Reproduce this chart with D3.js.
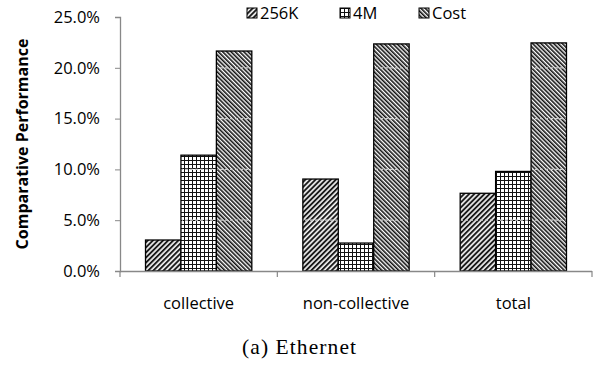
<!DOCTYPE html>
<html><head><meta charset="utf-8">
<script src="https://cdn.jsdelivr.net/npm/d3@7/dist/d3.min.js"></script>
<style>body{margin:0;background:#fff}svg{display:block}</style>
</head><body><svg id="c" width="597" height="367"></svg>
<script>
const categories = ["collective", "non-collective", "total"];
const seriesNames = ["256K", "4M", "Cost"];
const values256K = [3.05, 9.05, 7.65];
const values4M = [11.4, 2.75, 9.8];
const valuesCost = [21.65, 22.35, 22.45];
const yTicks = [0, 5, 10, 15, 20, 25];

const svg = d3.select("#c");
const m = {left:120, right:5, top:17, bottom:96};
const x = d3.scaleBand().domain(categories).range([m.left, 592]).paddingInner(0).paddingOuter(0);
const x1 = d3.scaleBand().domain(seriesNames).range([0, x.bandwidth()]).paddingOuter(0.72).paddingInner(0);
const y = d3.scaleLinear().domain([0, 25]).range([271, 17]);

const defs = svg.append("defs");
const p1 = defs.append("pattern").attr("id","p256").attr("patternUnits","userSpaceOnUse").attr("width",3.6).attr("height",3.6).attr("patternTransform","rotate(45)");
p1.append("rect").attr("width",3.6).attr("height",3.6).attr("fill","#eee");
p1.append("rect").attr("width",1.9).attr("height",3.6).attr("fill","#1a1a1a");
const p2 = defs.append("pattern").attr("id","p4m").attr("patternUnits","userSpaceOnUse").attr("width",4).attr("height",4);
p2.append("rect").attr("width",4).attr("height",4).attr("fill","#fff");
p2.append("path").attr("d","M0,0.5H4M0.5,0V4").attr("stroke","#111").attr("stroke-width",1);
const p3 = defs.append("pattern").attr("id","pcost").attr("patternUnits","userSpaceOnUse").attr("width",3).attr("height",3).attr("patternTransform","rotate(-45)");
p3.append("rect").attr("width",3).attr("height",3).attr("fill","#fff");
p3.append("rect").attr("width",1.6).attr("height",3).attr("fill","#111");

const fills = {"256K":"url(#p256)","4M":"url(#p4m)","Cost":"url(#pcost)"};
const data = categories.map((c,i)=>({cat:c, vals:[
  {s:"256K", v:values256K[i]}, {s:"4M", v:values4M[i]}, {s:"Cost", v:valuesCost[i]}]}));

const font = "Open Sans, Liberation Sans, sans-serif";

const bars = [];
data.forEach(d=>{ d.vals.forEach(b=>bars.push({cat:d.cat, s:b.s, v:b.v})); });
svg.append("g").selectAll("rect.bar").data(bars).join("rect").attr("class","bar")
  .attr("x", d=>x(d.cat)+x1(d.s)).attr("width", x1.bandwidth())
  .attr("y", d=>y(d.v)).attr("height", d=>y(0)-y(d.v))
  .attr("fill", d=>fills[d.s]).attr("stroke","#000").attr("stroke-width",1.3);

const clip = defs.append("clipPath").attr("id","barclip");
clip.selectAll("rect").data(bars).join("rect")
  .attr("x", d=>x(d.cat)+x1(d.s)+1).attr("width", x1.bandwidth()-2)
  .attr("y", d=>y(d.v)+1).attr("height", d=>Math.max(0,y(0)-y(d.v)-2));
svg.append("g").attr("clip-path","url(#barclip)").selectAll("line").data(yTicks.slice(1)).join("line")
  .attr("x1", m.left).attr("x2", 592).attr("y1", d=>y(d)).attr("y2", d=>y(d))
  .attr("stroke","#ccc").attr("stroke-width",1.2).attr("stroke-dasharray","3,2");

const ya = svg.append("g").attr("transform",`translate(${m.left},0)`)
  .call(d3.axisLeft(y).tickValues(yTicks).tickSize(5).tickFormat(d=>d.toFixed(1)+"%"));
ya.select(".domain").attr("stroke","#888").attr("stroke-width",1.3);
ya.selectAll(".tick line").attr("stroke","#888");
ya.selectAll(".tick text").attr("font-family",font).attr("font-size",16.5).attr("fill","#000").attr("x",-20);

const xa = svg.append("g").attr("transform",`translate(0,${y(0)})`);
xa.append("line").attr("x1",m.left).attr("x2",592).attr("y1",0.5).attr("y2",0.5).attr("stroke","#888").attr("stroke-width",1.5);
const edges = categories.map(c=>x(c)).concat([x(categories[categories.length-1])+x.bandwidth()]);
xa.selectAll("line.t").data(edges).join("line").attr("class","t")
  .attr("x1",d=>d).attr("x2",d=>d).attr("y1",0).attr("y2",6).attr("stroke","#888").attr("stroke-width",1.2);
xa.selectAll("text").data(categories).join("text")
  .attr("x", d=>x(d)+x.bandwidth()/2).attr("y", 38).attr("text-anchor","middle")
  .attr("font-family",font).attr("font-size",16.5).text(d=>d);

svg.append("text").attr("transform","translate(28,144) rotate(-90)").attr("text-anchor","middle")
  .attr("font-family",font).attr("font-weight","bold").attr("font-size",16).text("Comparative Performance");

const legX = [247, 340, 419];
const lg = svg.append("g");
seriesNames.forEach((s,i)=>{
  lg.append("rect").attr("x",legX[i]).attr("y",8).attr("width",10).attr("height",10)
    .attr("fill",fills[s]).attr("stroke","#000").attr("stroke-width",1);
  lg.append("text").attr("x",legX[i]+13).attr("y",19).attr("font-family",font).attr("font-size",16.5).text(s);
});

svg.append("text").attr("x",299).attr("y",354).attr("text-anchor","middle")
  .attr("font-family","Liberation Serif, Times New Roman, serif").attr("font-size",21.5)
  .attr("textLength",114).attr("lengthAdjust","spacing").text("(a) Ethernet");
</script></body></html>
